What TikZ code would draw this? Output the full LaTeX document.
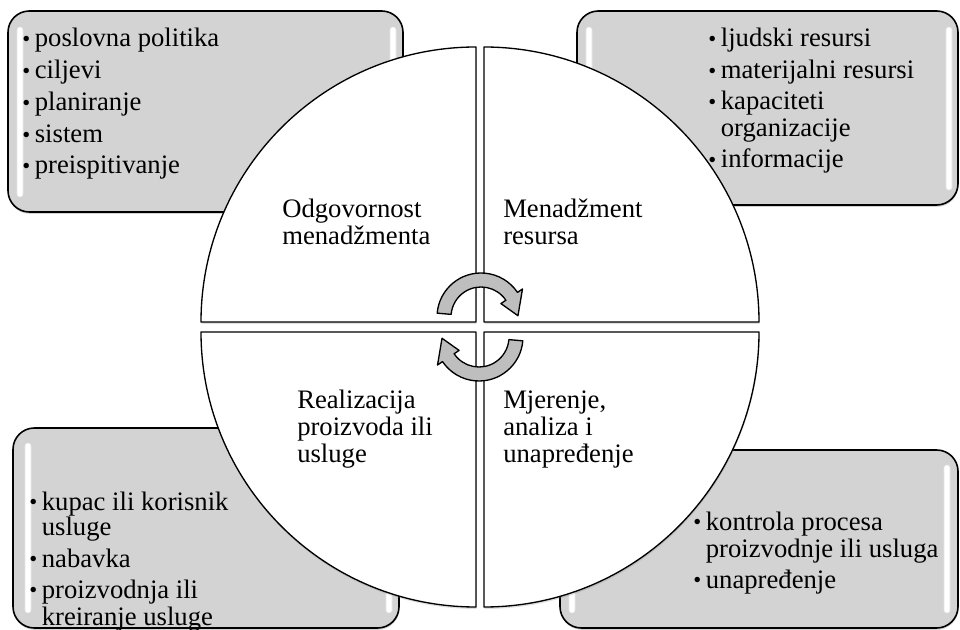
\documentclass[tikz,border=0pt]{standalone}
\usepackage{fontspec}
\setmainfont{Liberation Serif}
\usetikzlibrary{shadows,fit}
\definecolor{boxgray}{RGB}{211,211,211}
\definecolor{arrowgray}{RGB}{190,190,190}
\newcommand\bu{\raisebox{0.5pt}{\scalebox{0.85}{\textbullet}}\hspace{3.5pt}}
\newcommand\bi{\hphantom{\scalebox{0.85}{\textbullet}}\hspace{3.5pt}}
\tikzset{
  box/.style={draw=black, line width=1.2pt, fill=boxgray, rounded corners=16pt, inner sep=0pt,
    drop shadow={shadow xshift=0.3pt, shadow yshift=-1.4pt, opacity=0.35}},
  pie/.style={draw=black, line width=1pt, fill=white, line join=round,
    drop shadow={shadow xshift=0.4pt, shadow yshift=-1.5pt, opacity=0.25}},
  gloss/.style={fill=white, draw=black!10, line width=0.4pt, rounded corners=2pt},
  cyc/.style={draw=black, line width=1pt, fill=arrowgray, line join=round},
  txt/.style={inner sep=0pt, anchor=base west, font=\fontsize{20}{20}\selectfont}
}
\begin{document}
\begin{tikzpicture}[x=0.75pt,y=-0.75pt]
\useasboundingbox (0,0) rectangle (960,630);
\clip (0,0) rectangle (960,630);
% boxes
\node[box, fit={(8,11)(403,212)}] (tlbox) {};
\node[box, fit={(577,11)(958,205)}] (trbox) {};
\node[box, fit={(13,428)(399,628)}] (blbox) {};
\node[box, fit={(560,450)(958,628)}] (brbox) {};
% gloss strips
\draw[gloss] (17,27) rectangle (23,197);
\draw[gloss] (390,27) rectangle (396,197);
\draw[gloss] (586,27) rectangle (592,190);
\draw[gloss] (946,27) rectangle (952,190);
\draw[gloss] (25,443) rectangle (31,613);
\draw[gloss] (386,443) rectangle (392,613);
\draw[gloss] (569,465) rectangle (575,613);
\draw[gloss] (944,465) rectangle (950,613);
% quadrants
\draw[pie] (476,322) -- (201,322) arc[start angle=180,end angle=90,radius=206.25pt] -- cycle;
\draw[pie] (484,322) -- (484,47) arc[start angle=90,end angle=0,radius=206.25pt] -- cycle;
\draw[pie] (484,332) -- (759,332) arc[start angle=0,end angle=-90,radius=206.25pt] -- cycle;
\draw[pie] (476,332) -- (476,607) arc[start angle=-90,end angle=-180,radius=206.25pt] -- cycle;
% cycle arrows
\begin{scope}[shift={(481,317)}]
\draw[cyc] (175:33pt) arc[start angle=175,end angle=34,radius=33pt] -- (34:37.5pt)
  -- (2:27.75pt) -- (34:18pt) -- (34:22.5pt) arc[start angle=34,end angle=175,radius=22.5pt] -- cycle;
\end{scope}
\begin{scope}[shift={(479,337)}, rotate=180]
\draw[cyc] (175:33pt) arc[start angle=175,end angle=34,radius=33pt] -- (34:37.5pt)
  -- (2:27.75pt) -- (34:18pt) -- (34:22.5pt) arc[start angle=34,end angle=175,radius=22.5pt] -- cycle;
\end{scope}
% quadrant labels
\foreach \n/\x/\y/\t in {
  q1a/282/218/{Odgovornost}, q1b/282/245/{menadžmenta},
  q2a/503/218/{Menadžment}, q2b/503/245/{resursa},
  q3a/297/409/{Realizacija}, q3b/297/436/{proizvoda ili}, q3c/297/463/{usluge},
  q4a/503/409/{Mjerenje,}, q4b/503/436/{analiza i}, q4c/503/463/{unapređenje}}
  \node[txt] (\n) at (\x,\y) {\t};
% box lists
\foreach \n/\x/\y/\t in {
  a1/22/47/{\bu poslovna politika}, a2/22/79/{\bu ciljevi}, a3/22/111/{\bu planiranje},
  a4/22/143/{\bu sistem}, a5/22/174/{\bu preispitivanje},
  b1/708/47/{\bu ljudski resursi}, b2/708/79/{\bu materijalni resursi},
  b3/708/110/{\bu kapaciteti}, b4/708/137/{\bi organizacije}, b5/708/168/{\bu informacije},
  c1/29/510/{\bu kupac ili korisnik}, c2/29/536/{\bi usluge}, c3/29/567/{\bu nabavka},
  c4/29/598/{\bu proizvodnja ili}, c5/29/625/{\bi kreiranje usluge},
  d1/693/530/{\bu kontrola procesa}, d2/693/557/{\bi proizvodnje ili usluga},
  d3/693/588/{\bu unapređenje}}
  \node[txt] (\n) at (\x,\y) {\t};
\end{tikzpicture}
\end{document}
